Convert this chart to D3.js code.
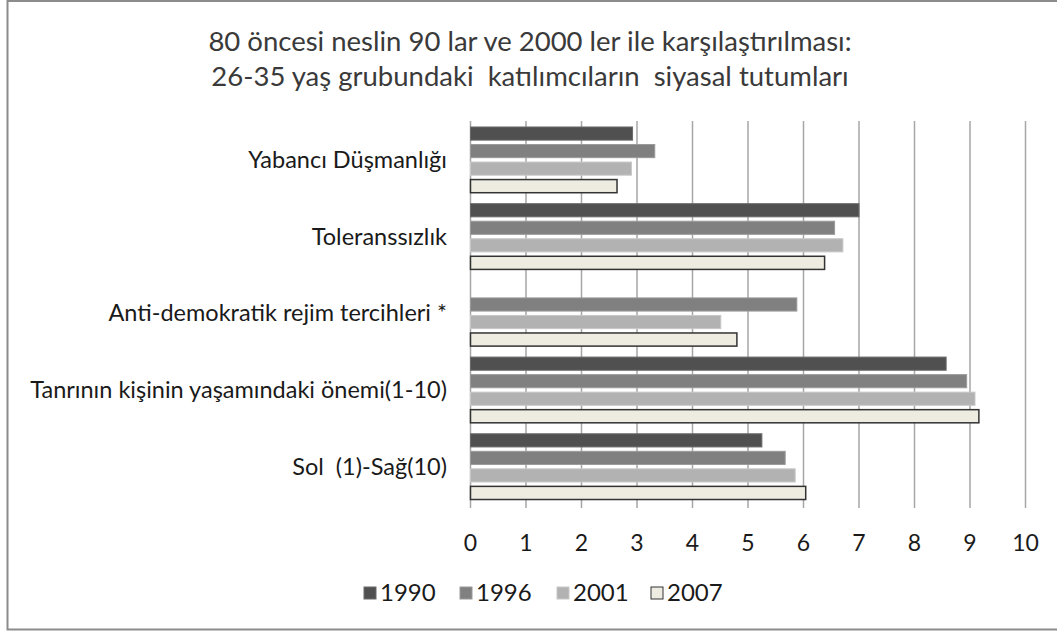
<!DOCTYPE html>
<html>
<head>
<meta charset="utf-8">
<script src="https://cdn.jsdelivr.net/npm/d3@7"></script>
<style>
  body { margin: 0; background: #fff; }
  svg { font-family: Lato, "Open Sans", sans-serif; }
</style>
</head>
<body>
<svg width="1057" height="631"></svg>
<script>
var titleLines = ["80 öncesi neslin 90 lar ve 2000 ler ile karşılaştırılması:",
                  "26-35 yaş grubundaki  katılımcıların  siyasal tutumları"];

var categories = ["Yabancı Düşmanlığı", "Toleranssızlık", "Anti-demokratik rejim tercihleri *",
                  "Tanrının kişinin yaşamındaki önemi(1-10)", "Sol  (1)-Sağ(10)"];

var years = ["1990", "1996", "2001", "2007"];

var v1990 = [2.92, 7.0, null, 8.57, 5.25];
var v1996 = [3.32, 6.56, 5.88, 8.94, 5.67];
var v2001 = [2.90, 6.71, 4.51, 9.09, 5.85];
var v2007 = [2.64, 6.38, 4.80, 9.16, 6.04];

var ticks = [0, 1, 2, 3, 4, 5, 6, 7, 8, 9, 10];

var seriesValues = [v1990, v1996, v2001, v2007];
var colors = ["#505050", "#808080", "#b2b2b2", "#eeece1"];
var strokes = ["#6a6a6a", "#9a9a9a", "#c8c8c8", "#333333"];

var svg = d3.select("svg");

// chart border (left, top, bottom only visible)
svg.append("path")
    .attr("d", "M1057,1 H7.5 V629.5 H1057")
    .attr("fill", "none")
    .attr("stroke", "#8c8c8c")
    .attr("stroke-width", 2);

// title
svg.append("g").selectAll("text")
    .data(titleLines)
    .enter().append("text")
    .attr("x", 530)
    .attr("y", function(d, i) { return 51 + i * 35; })
    .attr("text-anchor", "middle")
    .attr("font-size", 27.5)
    .attr("fill", "#3a3a3a")
    .style("white-space", "pre")
    .text(function(d) { return d; });

var x = d3.scaleLinear().domain([0, 10]).range([470.5, 1025.5]);
var y0 = d3.scaleBand().domain(categories).range([121.5, 505]).paddingInner(0.143).paddingOuter(0.0715);
var y1 = d3.scaleBand().domain(years).range([0, y0.bandwidth()]).paddingInner(0.25).paddingOuter(0);

// gridlines + ticks
svg.append("g").selectAll("line")
    .data(ticks)
    .enter().append("line")
    .attr("x1", function(d) { return x(d); })
    .attr("x2", function(d) { return x(d); })
    .attr("y1", 121)
    .attr("y2", 508)
    .attr("stroke", "#a6a6a6")
    .attr("stroke-width", 1.5);

// tick labels
svg.append("g").selectAll("text")
    .data(ticks)
    .enter().append("text")
    .attr("x", function(d) { return x(d); })
    .attr("y", 551)
    .attr("text-anchor", "middle")
    .attr("font-size", 23)
    .attr("fill", "#1a1a1a")
    .text(function(d) { return d; });

// bars
var rows = [];
categories.forEach(function(c, ci) {
    years.forEach(function(yr, si) {
        var v = seriesValues[si][ci];
        if (v !== null) rows.push({cat: c, year: yr, si: si, value: v});
    });
});

svg.append("g").selectAll("rect")
    .data(rows)
    .enter().append("rect")
    .attr("x", x(0))
    .attr("y", function(d) { return y0(d.cat) + y1(d.year); })
    .attr("width", function(d) { return x(d.value) - x(0); })
    .attr("height", y1.bandwidth())
    .attr("fill", function(d) { return colors[d.si]; })
    .attr("stroke", function(d) { return strokes[d.si]; })
    .attr("stroke-width", function(d) { return d.si === 3 ? 1.5 : 1; });

// category labels
svg.append("g").selectAll("text")
    .data(categories)
    .enter().append("text")
    .attr("x", 447)
    .attr("y", function(d) { return y0(d) + y0.bandwidth() / 2 + 8; })
    .attr("text-anchor", "end")
    .attr("font-size", 23.5)
    .attr("fill", "#1a1a1a")
    .style("white-space", "pre")
    .text(function(d) { return d; });

// legend
var legendX = [364, 460, 557, 651];
var legend = svg.append("g").selectAll("g")
    .data(years)
    .enter().append("g")
    .attr("transform", function(d, i) { return "translate(" + legendX[i] + ",587)"; });

legend.append("rect")
    .attr("width", 12)
    .attr("height", 12)
    .attr("fill", function(d, i) { return colors[i]; })
    .attr("stroke", function(d, i) { return i === 3 ? "#333" : strokes[i]; });

legend.append("text")
    .attr("x", 16)
    .attr("y", 14)
    .attr("font-size", 24)
    .attr("fill", "#1a1a1a")
    .text(function(d) { return d; });
</script>
</body>
</html>
